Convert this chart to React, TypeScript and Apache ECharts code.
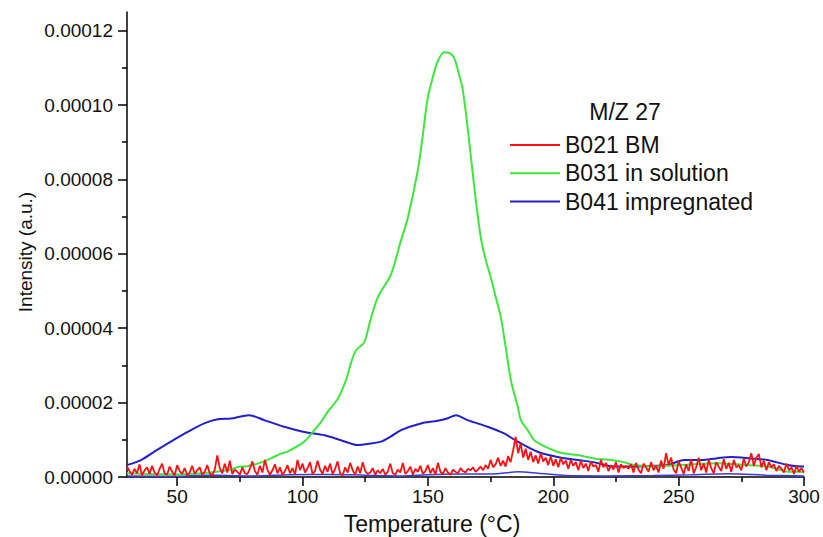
import React, { useEffect, useRef } from "react";
import * as echarts from "echarts";

const E = 1e-6;

// B031 in solution (green): [temperature, intensity x1e-6]
const greenData: [number, number][] = [
  [30, 1.0], [40, 0.8], [50, 0.7], [60, 1.0], [70, 1.8], [75, 2.8], [78, 2.9], [83, 3.8],
  [87.4, 5.0], [91.4, 6.3], [94, 6.8], [100.7, 9.5], [104, 12], [107.4, 14.8], [110, 17.5],
  [114, 21], [117.3, 26], [119.5, 31], [121.3, 34], [124.6, 36.2], [127, 42], [130, 48.3],
  [135.3, 54.5], [139, 63], [142, 69.7], [145.9, 82.2], [148, 92], [149.9, 101.8], [152, 107.5],
  [153.9, 111.7], [156.5, 114.2], [158.5, 114], [160.5, 112.6], [162.5, 108], [163.8, 104.5],
  [165.5, 96], [167.2, 85.8], [169, 75], [171.1, 64.4], [173, 58.5], [175.1, 53.6], [177, 48.5],
  [179.1, 42.9], [181, 35], [183.1, 26], [185.8, 19], [187.1, 15.3], [189.8, 12.6], [192.4, 9.9],
  [195, 8.8], [199, 7.5], [203, 6.5], [209.7, 5.9], [216.3, 5.0], [223, 4.55], [228, 4.0],
  [232.3, 3.2], [240.3, 2.8], [245, 3.0], [250.9, 3.2], [256, 3.4], [265.5, 3.7], [272, 3.5],
  [277.5, 3.2], [285.5, 2.8], [290, 2.0], [293.4, 1.4], [298.8, 1.4], [300, 1.2],
];

// B041 impregnated (blue): [temperature, intensity x1e-6]
const blueData: [number, number][] = [
  [30, 3.2], [35.6, 4.55], [40.9, 6.8], [47.5, 9.5], [54.2, 12.1], [60.8, 14.4], [66.2, 15.5],
  [71.5, 15.7], [75, 16.2], [78.8, 16.6], [84.7, 15.3], [92.7, 13.5], [100.7, 12.1], [108.7, 11.2],
  [115.3, 9.9], [122, 8.6], [127.3, 9.0], [131.3, 9.5], [135, 10.8], [139.3, 12.6], [147.2, 14.4],
  [153.9, 15.1], [158, 15.8], [161.2, 16.6], [165.8, 15.3], [173.8, 13.5], [180.4, 11.7],
  [185.8, 9.5], [193.7, 6.8], [201.7, 5.4], [209.7, 4.55], [216, 4.0], [224.3, 2.8], [232, 2.8],
  [240, 3.0], [245.6, 3.2], [252.2, 4.55], [258.9, 4.55], [265, 5.0], [270.8, 5.4], [278.8, 5.0],
  [285.5, 4.55], [293.4, 3.2], [298.8, 2.8], [300, 2.8],
];

// faint blue trace near the baseline
const blueBaseData: [number, number][] = [
  [30, 0.3], [50, 0.2], [60, 0.5], [70, 0.4], [80, 0.3], [95, 0.6], [110, 0.7], [125, 0.5],
  [140, 0.3], [150, 0.6], [165, 0.8], [178, 0.9], [186, 1.4], [194, 1.0], [205, 0.4], [220, 0.3],
  [240, 0.4], [255, 0.6], [270, 0.9], [285, 0.5], [300, 0.3],
];

// B021 BM (red), sampled every 1 °C from 30 °C, intensity x1e-6
const redStart = 30;
const redStep = 1;
const redValues: number[] = [
  2.8, 1.6, 0.6, 2.2, 1.0, 3.4, 0.4, 1.8, 2.6, 0.8, 3.0, 1.2, 0.4, 2.2, 3.6, 1.0, 0.6, 2.8, 1.4, 0.4,
  3.2, 1.6, 0.8, 2.4, 0.5, 1.2, 3.0, 0.8, 1.8, 2.6, 0.6, 1.4, 3.2, 1.0, 0.4, 2.0, 5.8, 2.4, 1.0, 3.6,
  1.2, 4.4, 0.8, 2.0, 1.4, 0.6, 2.6, 1.0, 0.8, 2.2, 4.2, 1.6, 0.6, 3.0, 1.2, 4.6, 2.0, 0.6, 1.8, 3.4,
  1.0, 2.6, 0.5, 1.6, 3.2, 1.0, 2.4, 0.6, 4.6, 1.8, 3.6, 1.2, 2.4, 4.0, 0.8, 1.6, 4.4, 2.0, 0.8, 3.0,
  1.4, 3.6, 0.8, 2.2, 4.2, 1.0, 0.4, 2.6, 1.2, 3.8, 1.8, 0.6, 2.8, 1.0, 4.0, 1.6, 0.8, 1.2, 2.4, 0.6,
  1.8, 1.0, 2.2, 0.6, 1.4, 3.6, 1.0, 0.6, 2.0, 1.2, 3.8, 0.8, 1.6, 2.8, 0.6, 2.2, 1.4, 3.0, 0.8, 1.6,
  3.2, 1.0, 2.4, 0.6, 3.8, 1.4, 0.8, 2.4, 1.2, 0.6, 2.0, 1.4, 1.0, 2.4, 1.6, 1.2, 2.2, 1.8, 2.6, 1.4,
  2.0, 2.8, 1.8, 3.2, 2.2, 4.6, 2.6, 3.4, 5.2, 3.0, 4.4, 2.8, 5.6, 4.0, 7.2, 10.8, 6.4, 9.0, 5.2, 7.6,
  4.6, 6.8, 4.0, 5.8, 3.6, 6.4, 4.2, 5.2, 3.2, 5.6, 3.0, 4.8, 2.6, 5.2, 3.4, 4.4, 2.2, 4.6, 3.0, 4.0,
  1.8, 4.4, 2.4, 3.6, 1.6, 4.2, 2.8, 3.2, 1.4, 4.6, 2.6, 3.8, 1.6, 3.2, 2.0, 4.0, 1.2, 3.4, 2.4, 3.0,
  2.2, 3.4, 1.2, 3.8, 2.0, 1.0, 3.6, 2.6, 1.4, 4.0, 1.8, 3.0, 1.2, 4.4, 2.2, 6.4, 3.2, 5.2, 2.0, 1.0,
  4.2, 2.6, 0.8, 3.4, 1.6, 4.8, 1.0, 2.6, 5.2, 1.8, 3.6, 1.2, 4.6, 2.4, 1.0, 4.0, 2.8, 1.6, 4.8, 2.2,
  3.8, 1.4, 4.6, 2.6, 3.2, 1.8, 5.0, 2.8, 4.0, 6.4, 3.0, 5.2, 6.2, 2.6, 4.4, 1.8, 4.0, 2.6, 3.4, 1.6,
  3.0, 2.2, 1.2, 3.6, 1.8, 2.6, 0.8, 3.0, 1.4, 2.4, 1.2,
];

const xTicks = [50, 100, 150, 200, 250, 300];
const xMinorTicks = [75, 125, 175, 225, 275];
const yTicks = [0, 0.00002, 0.00004, 0.00006, 0.00008, 0.0001, 0.00012];
const yMinorTicks = [0.00001, 0.00003, 0.00005, 0.00007, 0.00009, 0.00011];

const names = ["B021 BM", "B031 in solution", "B041 impregnated"];
const colors = ["#ff1010", "#3ee63e", "#2020cc"];

const FONT = "Liberation Sans, Arial, sans-serif";

export default function App() {
  const ref = useRef<HTMLDivElement>(null);
  useEffect(() => {
    if (!ref.current) return;
    const chart = echarts.init(ref.current, undefined, { renderer: "svg" });
    const scale = (d: [number, number][]) => d.map(([t, v]) => [t, v * E]);
    const redData = redValues.map((v, i) => [redStart + i * redStep, v * E]);
    const axisLineStyle = { color: "#000", width: 1.5 };
    chart.setOption({
      animation: false,
      textStyle: { fontFamily: FONT },
      grid: { left: 127, right: 19, top: 12, bottom: 60, containLabel: false },
      xAxis: [
        {
          type: "value",
          min: 30,
          max: 300,
          axisLine: { show: true, lineStyle: axisLineStyle },
          axisTick: { show: true, inside: false, length: 9, lineStyle: axisLineStyle, customValues: xTicks },
          axisLabel: { fontSize: 19, color: "#111", margin: 10, fontFamily: FONT, customValues: xTicks },
          splitLine: { show: false },
        },
        {
          type: "value",
          min: 30,
          max: 300,
          position: "bottom",
          axisLine: { show: false },
          axisTick: { show: true, inside: false, length: 5, lineStyle: axisLineStyle, customValues: xMinorTicks },
          axisLabel: { show: false },
          splitLine: { show: false },
        },
      ],
      yAxis: [
        {
          type: "value",
          min: 0,
          max: 0.000125,
          axisLine: { show: true, lineStyle: axisLineStyle },
          axisTick: { show: true, inside: false, length: 9, lineStyle: axisLineStyle, customValues: yTicks },
          axisLabel: {
            fontSize: 19,
            color: "#111",
            margin: 14,
            fontFamily: FONT,
            customValues: yTicks,
            formatter: (v: number) => v.toFixed(5),
          },
          splitLine: { show: false },
        },
        {
          type: "value",
          min: 0,
          max: 0.000125,
          position: "left",
          axisLine: { show: false },
          axisTick: { show: true, inside: false, length: 5, lineStyle: axisLineStyle, customValues: yMinorTicks },
          axisLabel: { show: false },
          splitLine: { show: false },
        },
      ],
      legend: {
        data: names,
        orient: "vertical",
        left: 505,
        top: 128,
        icon: "rect",
        itemWidth: 50,
        itemHeight: 2,
        itemGap: 4.3,
        textStyle: { fontSize: 23, color: "#111", fontFamily: FONT, lineHeight: 24 },
      },
      graphic: [
        {
          type: "text",
          x: 625,
          y: 112,
          style: { text: "M/Z 27", font: `23px ${FONT}`, fill: "#111", textAlign: "center", textVerticalAlign: "middle" },
        },
        {
          type: "text",
          x: 432,
          y: 524,
          style: { text: "Temperature (°C)", font: `23px ${FONT}`, fill: "#111", textAlign: "center", textVerticalAlign: "middle" },
        },
        {
          type: "text",
          x: 25,
          y: 252,
          rotation: Math.PI / 2,
          style: { text: "Intensity (a.u.)", font: `19px ${FONT}`, fill: "#111", textAlign: "center", textVerticalAlign: "middle" },
        },
      ],
      series: [
        {
          name: "B041 impregnated",
          type: "line",
          data: scale(blueBaseData),
          showSymbol: false,
          symbol: "none",
          smooth: 0.3,
          lineStyle: { color: "#3a3ae0", width: 1.5 },
          itemStyle: { color: colors[2] },
          z: 1,
        },
        {
          name: names[2],
          type: "line",
          data: scale(blueData),
          showSymbol: false,
          symbol: "none",
          smooth: 0.3,
          lineStyle: { color: colors[2], width: 2 },
          itemStyle: { color: colors[2] },
          z: 2,
        },
        {
          name: names[1],
          type: "line",
          data: scale(greenData),
          showSymbol: false,
          symbol: "none",
          smooth: 0.3,
          lineStyle: { color: colors[1], width: 2 },
          itemStyle: { color: colors[1] },
          z: 3,
        },
        {
          name: names[0],
          type: "line",
          data: redData,
          showSymbol: false,
          symbol: "none",
          lineStyle: { color: colors[0], width: 1.8 },
          itemStyle: { color: colors[0] },
          z: 4,
        },
      ],
    });
    return () => chart.dispose();
  }, []);
  return <div ref={ref} style={{ width: 823, height: 537, position: "absolute", left: 0, top: 0 }} />;
}
